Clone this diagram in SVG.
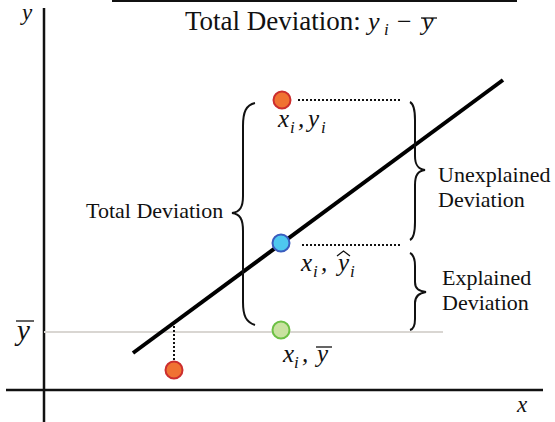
<svg xmlns="http://www.w3.org/2000/svg" width="555" height="422" viewBox="0 0 555 422">
<defs>
<style>
.txt{font-family:"Liberation Serif","Times New Roman",serif;font-size:22px;fill:#111}
.math{font-family:"Liberation Serif","Times New Roman",serif;font-style:italic;font-size:25px;fill:#111}
.sub{font-size:17px}
.axis{stroke:#111;stroke-width:2.5;fill:none}
.dot{stroke:#111;stroke-width:2;stroke-dasharray:2,2;fill:none}
.brace{stroke:#111;stroke-width:2;fill:none}
.bar{stroke:#111;stroke-width:1.3}
</style>
</defs>
<rect width="555" height="422" fill="#fff"/>

<!-- title -->
<g id="title">
<line x1="112" y1="1" x2="517" y2="1" stroke="#111" stroke-width="2"/>
<text class="txt" x="185" y="30" style="font-size:27px">Total Deviation:</text>
<text class="math" x="368" y="30" style="font-size:26px">y</text>
<text class="math sub" x="384" y="35">i</text>
<text class="txt" x="397" y="30" style="font-size:26px">−</text>
<text class="math" x="422" y="30" style="font-size:26px">y</text>
<line class="bar" x1="421" y1="18" x2="437" y2="18"/>
</g>

<!-- axes -->
<g id="axes">
<line class="axis" x1="44" y1="8" x2="44" y2="422"/>
<line class="axis" x1="6" y1="390" x2="543" y2="390"/>
<line x1="44" y1="332" x2="443" y2="332" stroke="#d9d6d2" stroke-width="2"/>
<text class="math" x="22" y="20" style="font-size:23px">y</text>
<text class="math" x="517" y="412" style="font-size:23px">x</text>
<text class="math" x="17" y="340" style="font-size:29px">y</text>
<line class="bar" x1="16" y1="321" x2="34" y2="321"/>
</g>

<!-- connectors -->
<g id="connectors">
<line x1="133" y1="353" x2="503" y2="80" stroke="#000" stroke-width="4"/>
<line class="dot" x1="298" y1="100" x2="400" y2="100"/>
<line class="dot" x1="302" y1="245" x2="402" y2="245"/>
<line class="dot" x1="174" y1="326" x2="174" y2="364"/>
<path class="brace" d="M255,103 C246,105 243,112 243,126 L243,196 C243,207 240,212 232,213 C240,214 243,219 243,231 L243,302 C243,316 246,322 255,325"/>
<path class="brace" d="M410,102 C414,104 415,110 415,120 L415,156 C415,165 418,169 425,170 C418,171 415,175 415,185 L415,222 C415,232 414,238 410,240"/>
<path class="brace" d="M410,253 C414,255 415,259 415,266 L415,282 C415,289 419,291 426,292 C419,293 415,296 415,303 L415,319 C415,325 414,329 410,330"/>
</g>

<!-- nodes -->
<g id="point-yi">
<circle cx="282" cy="100" r="8.5" fill="#f07232" stroke="#cc2e2e" stroke-width="2"/>
<text class="math" x="278" y="127">x</text>
<text class="math sub" x="290" y="133">i</text>
<text class="math" x="298" y="127">,</text>
<text class="math" x="308" y="127">y</text>
<text class="math sub" x="321" y="133">i</text>
</g>

<g id="point-yhat">
<circle cx="281" cy="243" r="8.5" fill="#4ec8ef" stroke="#3a5cbe" stroke-width="2"/>
<text class="math" x="301" y="271">x</text>
<text class="math sub" x="313" y="277">i</text>
<text class="math" x="321" y="271">,</text>
<text class="math" x="338" y="271">y</text>
<polyline points="337,256 343.5,251 350,256" fill="none" stroke="#111" stroke-width="1.3"/>
<text class="math sub" x="350" y="277">i</text>
</g>

<g id="point-ybar">
<circle cx="281" cy="330" r="8.5" fill="#c9e2a0" stroke="#6cc044" stroke-width="2"/>
<text class="math" x="283" y="362">x</text>
<text class="math sub" x="294" y="368">i</text>
<text class="math" x="302" y="362">,</text>
<text class="math" x="317" y="362">y</text>
<line class="bar" x1="316" y1="347" x2="332" y2="347"/>
</g>

<g id="point-low">
<circle cx="174" cy="370" r="8.5" fill="#f07232" stroke="#cc2e2e" stroke-width="2"/>
</g>

<!-- labels -->
<g id="label-total">
<text class="txt" x="86" y="218">Total Deviation</text>
</g>
<g id="label-unexplained">
<text class="txt" x="438" y="182">Unexplained</text>
<text class="txt" x="438" y="207">Deviation</text>
</g>
<g id="label-explained">
<text class="txt" x="442" y="285">Explained</text>
<text class="txt" x="442" y="310">Deviation</text>
</g>
</svg>
